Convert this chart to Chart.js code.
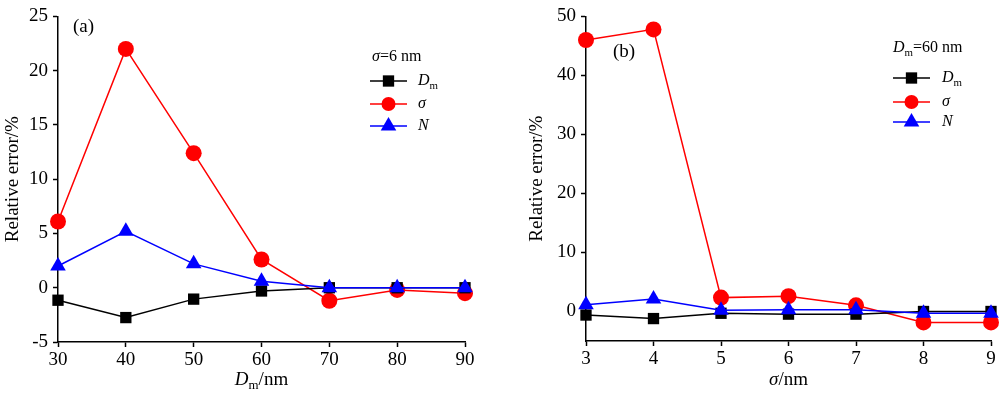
<!DOCTYPE html>
<html><head><meta charset="utf-8">
<script src="https://cdn.jsdelivr.net/npm/chart.js@4.4.0/dist/chart.umd.min.js"></script>
<style>
html,body{margin:0;padding:0;background:#fff;}
#wrap{display:flex;width:1000px;height:394px;}
.panel{position:relative;width:500px;height:394px;}
</style></head><body>
<div id="wrap"><div class="panel"><canvas id="cA" width="500" height="394"></canvas></div><div class="panel"><canvas id="cB" width="500" height="394"></canvas></div></div>
<script>
// ---- data ----
const dmValues = [30, 40, 50, 60, 70, 80, 90];
const aDm    = [-1.15, -2.75, -1.05, -0.3, 0, 0, 0];
const aSigma = [6.1, 22.0, 12.4, 2.6, -1.2, -0.2, -0.5];
const aN     = [2.0, 5.2, 2.2, 0.6, 0, 0, 0];
const aYTicks = [-5, 0, 5, 10, 15, 20, 25];

const sigmaValues = [3, 4, 5, 6, 7, 8, 9];
const bDm    = [-0.6, -1.2, -0.3, -0.45, -0.45, 0.0, 0.0];
const bSigma = [46.0, 47.8, 2.35, 2.6, 1.05, -1.85, -1.85];
const bN     = [1.15, 2.1, 0.2, 0.3, 0.3, -0.3, -0.3];
const bYTicks = [0, 10, 20, 30, 40, 50];

const FONT = "'Liberation Serif', 'Times New Roman', serif";

function pts(xs, ys) { return xs.map((x, i) => ({x: x, y: ys[i]})); }

function drawRich(ctx, parts, x, y, align, size) {
  let total = 0;
  const ms = parts.map(p => {
    const s = p.sub ? size * 0.68 : size;
    ctx.font = (p.italic ? 'italic ' : '') + s + 'px ' + FONT;
    const w = ctx.measureText(p.t).width;
    total += w;
    return {p, s, w};
  });
  let cx = align === 'center' ? x - total / 2 : x;
  ctx.textBaseline = 'middle';
  ctx.textAlign = 'left';
  ctx.fillStyle = '#000';
  ms.forEach(m => {
    ctx.font = (m.p.italic ? 'italic ' : '') + m.s + 'px ' + FONT;
    ctx.fillText(m.p.t, cx, y + (m.p.sub ? size * 0.3 : 0));
    cx += m.w;
  });
}

const seriesStyles = [
  {color: '#000000', style: 'rect', r: 8, lr: 8, label: [{t: 'D', italic: true}, {t: 'm', sub: true}]},
  {color: '#ff0000', style: 'circle', r: 8, lr: 7, label: [{t: 'σ', italic: true}]},
  {color: '#0000ff', style: 'triangle', r: 9, lr: 9, label: [{t: 'N', italic: true}]}
];

function makeDecor(cfg) {
  return {
    id: 'decor',
    afterDraw(chart) {
      const ctx = chart.ctx;
      ctx.save();
      const ca = chart.chartArea;
      drawRich(ctx, cfg.xTitle, (ca.left + ca.right) / 2, cfg.xTitleY, 'center', 19);
      ctx.font = '19px ' + FONT;
      ctx.fillStyle = '#000';
      ctx.textBaseline = 'middle';
      ctx.textAlign = 'left';
      ctx.fillText(cfg.panel, cfg.panelX, cfg.panelY);
      drawRich(ctx, cfg.header, cfg.headerX, cfg.headerY, 'left', 16);
      seriesStyles.forEach((s, i) => {
        const y = cfg.rowY[i];
        ctx.strokeStyle = s.color;
        ctx.lineWidth = 1.5;
        ctx.beginPath();
        ctx.moveTo(cfg.lineX1, y);
        ctx.lineTo(cfg.lineX2, y);
        ctx.stroke();
        ctx.fillStyle = s.color;
        Chart.helpers.drawPoint(ctx, {pointStyle: s.style, radius: s.lr, rotation: 0, borderWidth: 0}, (cfg.lineX1 + cfg.lineX2) / 2, y);
        drawRich(ctx, s.label, cfg.labelX, y, 'left', 16);
      });
      ctx.restore();
    }
  };
}

function makeChart(id, xs, series, xMin, xMax, yMin, yMax, yTicks, dims, decor) {
  const order = [1, 2, 0];
  const datasets = series.map((ys, i) => ({
    data: pts(xs, ys),
    borderColor: seriesStyles[i].color,
    backgroundColor: seriesStyles[i].color,
    pointBackgroundColor: seriesStyles[i].color,
    pointBorderWidth: 0,
    pointStyle: seriesStyles[i].style,
    pointRadius: seriesStyles[i].r,
    pointHoverRadius: seriesStyles[i].r,
    borderWidth: 1.5,
    tension: 0,
    clip: false,
    order: order[i]
  }));
  return new Chart(document.getElementById(id), {
    type: 'line',
    data: {datasets},
    plugins: [makeDecor(decor)],
    options: {
      responsive: false,
      animation: false,
      events: [],
      layout: {padding: {left: 0, right: dims.right, top: dims.top, bottom: 0}},
      plugins: {legend: {display: false}, tooltip: {enabled: false}},
      scales: {
        x: {
          type: 'linear', min: xMin, max: xMax,
          afterBuildTicks: s => { s.ticks = xs.map(v => ({value: v})); },
          afterFit: s => { s.height = dims.xH; },
          grid: {display: true, drawOnChartArea: false, drawTicks: true, tickLength: 5, color: '#000', tickWidth: 1.5},
          border: {display: true, color: '#000', width: 1.5},
          ticks: {color: '#000', font: {family: FONT, size: 19}, padding: 2, maxRotation: 0}
        },
        y: {
          type: 'linear', min: yMin, max: yMax,
          afterBuildTicks: s => { s.ticks = yTicks.map(v => ({value: v})); },
          afterFit: s => { s.width = dims.yW; },
          grid: {display: true, drawOnChartArea: false, drawTicks: true, tickLength: 5, color: '#000', tickWidth: 1.5},
          border: {display: true, color: '#000', width: 1.5},
          ticks: {color: '#000', font: {family: FONT, size: 19}, padding: 5},
          title: {display: true, text: 'Relative error/%', color: '#000', font: {family: FONT, size: 19}, padding: {top: dims.titlePad, bottom: 0}}
        }
      }
    }
  });
}

makeChart('cA', dmValues, [aDm, aSigma, aN], 30, 90, -5, 25, aYTicks,
  {right: 35, top: 14, xH: 52, yW: 58, titlePad: 2},
  {xTitle: [{t: 'D', italic: true}, {t: 'm', sub: true}, {t: '/nm'}], xTitleY: 380,
   panel: '(a)', panelX: 73, panelY: 27,
   header: [{t: 'σ', italic: true}, {t: '=6 nm'}], headerX: 372, headerY: 57,
   rowY: [81, 104, 126], lineX1: 370, lineX2: 407, labelX: 418});

makeChart('cB', sigmaValues, [bDm, bSigma, bN], 3, 9, -5, 50, bYTicks,
  {right: 9, top: 14, xH: 53, yW: 86, titlePad: 26},
  {xTitle: [{t: 'σ', italic: true}, {t: '/nm'}], xTitleY: 380,
   panel: '(b)', panelX: 113, panelY: 52,
   header: [{t: 'D', italic: true}, {t: 'm', sub: true}, {t: '=60 nm'}], headerX: 393, headerY: 48,
   rowY: [78, 102, 122], lineX1: 393, lineX2: 430, labelX: 442});
</script>
</body></html>
